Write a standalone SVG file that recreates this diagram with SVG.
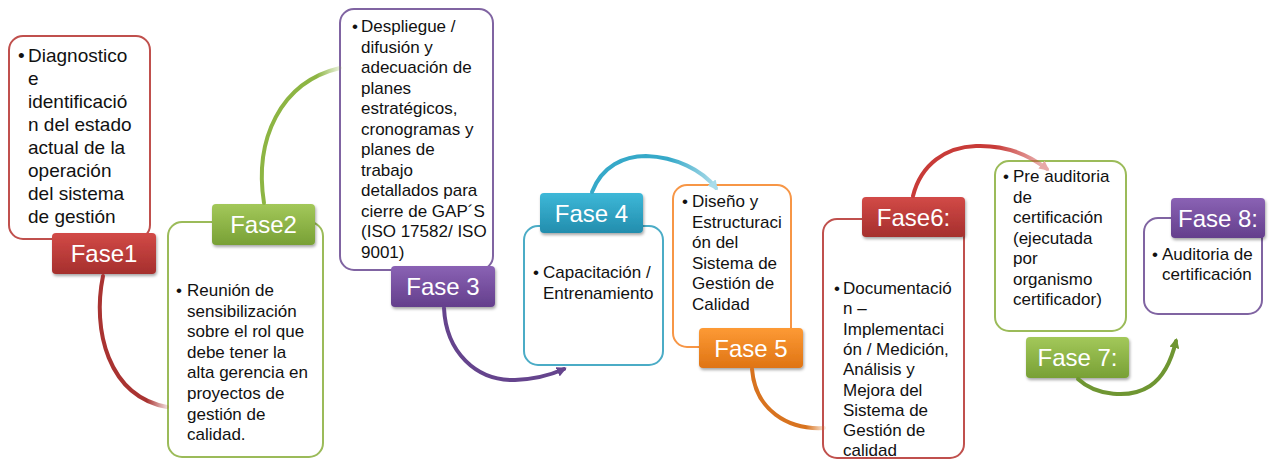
<svg xmlns="http://www.w3.org/2000/svg" width="1277" height="460" viewBox="0 0 1277 460">
<style>
.box{fill:#fff;stroke-width:2}
.red{stroke:#C0504D}.grn{stroke:#9BBB59}.pur{stroke:#8064A2}.blu{stroke:#4BACC6}.org{stroke:#F79646}
.lbl{filter:url(#sh)}
.lt{font-family:"Liberation Sans",Arial,sans-serif;font-size:24px;fill:#fff;text-anchor:middle}
.bt{font-family:"Liberation Sans",Arial,sans-serif;font-size:17px;fill:#111}
.arc{fill:none;stroke-width:4;stroke-linecap:round}
</style>
<defs>
<filter id="sh" x="-10%" y="-10%" width="130%" height="140%"><feDropShadow dx="1" dy="2" stdDeviation="1.5" flood-color="#000" flood-opacity="0.35"/></filter>
<linearGradient id="gRed" x1="0" y1="0" x2="0" y2="1"><stop offset="0" stop-color="#D24A47"/><stop offset="1" stop-color="#A52F2D"/></linearGradient>
<linearGradient id="gGrn" x1="0" y1="0" x2="0" y2="1"><stop offset="0" stop-color="#A3C85A"/><stop offset="1" stop-color="#78A035"/></linearGradient>
<linearGradient id="gPur" x1="0" y1="0" x2="0" y2="1"><stop offset="0" stop-color="#8A62B4"/><stop offset="1" stop-color="#643F8C"/></linearGradient>
<linearGradient id="gBlu" x1="0" y1="0" x2="0" y2="1"><stop offset="0" stop-color="#3DB8D8"/><stop offset="1" stop-color="#238DAD"/></linearGradient>
<linearGradient id="gOrg" x1="0" y1="0" x2="0" y2="1"><stop offset="0" stop-color="#FD9A35"/><stop offset="1" stop-color="#DF7414"/></linearGradient>
<linearGradient id="a1" gradientUnits="userSpaceOnUse" x1="97" y1="0" x2="168" y2="0"><stop offset="0" stop-color="#A93331"/><stop offset="0.7" stop-color="#A93331"/><stop offset="1" stop-color="#A93331" stop-opacity="0.15"/></linearGradient>
<linearGradient id="a2" gradientUnits="userSpaceOnUse" x1="260" y1="0" x2="341" y2="0"><stop offset="0" stop-color="#8DB543"/><stop offset="0.7" stop-color="#8DB543"/><stop offset="1" stop-color="#8DB543" stop-opacity="0.15"/></linearGradient>
<linearGradient id="a4" gradientUnits="userSpaceOnUse" x1="592" y1="0" x2="720" y2="0"><stop offset="0" stop-color="#36A9C9"/><stop offset="0.6" stop-color="#36A9C9"/><stop offset="1" stop-color="#36A9C9" stop-opacity="0.35"/></linearGradient>
<linearGradient id="a5" gradientUnits="userSpaceOnUse" x1="750" y1="0" x2="825" y2="0"><stop offset="0" stop-color="#D8731F"/><stop offset="0.75" stop-color="#D8731F"/><stop offset="1" stop-color="#D8731F" stop-opacity="0.15"/></linearGradient>
<linearGradient id="a6" gradientUnits="userSpaceOnUse" x1="913" y1="0" x2="1050" y2="0"><stop offset="0" stop-color="#C83B38"/><stop offset="0.6" stop-color="#C83B38"/><stop offset="1" stop-color="#C83B38" stop-opacity="0.3"/></linearGradient>
<marker id="mPur" viewBox="0 0 10 10" refX="7" refY="5" markerUnits="userSpaceOnUse" markerWidth="10" markerHeight="10" orient="auto"><path d="M0,0 L10,5 L0,10 z" fill="#65448D"/></marker>
<marker id="mBlu" viewBox="0 0 10 10" refX="7" refY="5" markerUnits="userSpaceOnUse" markerWidth="10" markerHeight="10" orient="auto"><path d="M0,0 L10,5 L0,10 z" fill="#A9DCEA"/></marker>
<marker id="mRed" viewBox="0 0 10 10" refX="7" refY="5" markerUnits="userSpaceOnUse" markerWidth="10" markerHeight="10" orient="auto"><path d="M0,0 L10,5 L0,10 z" fill="#E8A9A7"/></marker>
<marker id="mGrn" viewBox="0 0 10 10" refX="7" refY="5" markerUnits="userSpaceOnUse" markerWidth="10" markerHeight="10" orient="auto"><path d="M0,0 L10,5 L0,10 z" fill="#6F9632"/></marker>
</defs>
<rect width="1277" height="460" fill="#fff"/>

<g id="fase1">
<rect class="box red" x="9" y="36" width="141" height="203" rx="14"/>
<text class="bt" style="font-size:19px"><tspan x="18" y="62">•</tspan><tspan x="28" y="62">Diagnostico</tspan><tspan x="28" y="85">e</tspan><tspan x="28" y="108">identificació</tspan><tspan x="28" y="131">n del estado</tspan><tspan x="28" y="154">actual de la</tspan><tspan x="28" y="177">operación</tspan><tspan x="28" y="200">del sistema</tspan><tspan x="28" y="223">de gestión</tspan></text>
<rect class="lbl" x="52" y="233" width="104" height="41" rx="4" fill="url(#gRed)"/>
<text class="lt" x="104" y="262">Fase1</text>
</g>

<g id="fase2">
<rect class="box grn" x="168" y="222" width="155" height="235" rx="14"/>
<text class="bt"><tspan x="176" y="296">•</tspan><tspan x="187" y="296">Reunión de</tspan><tspan x="187" y="316.6">sensibilización</tspan><tspan x="187" y="337.2">sobre el rol que</tspan><tspan x="187" y="357.8">debe tener la</tspan><tspan x="187" y="378.4">alta gerencia en</tspan><tspan x="187" y="399">proyectos de</tspan><tspan x="187" y="419.6">gestión de</tspan><tspan x="187" y="440.2">calidad.</tspan></text>
<rect class="lbl" x="212" y="204" width="103" height="41" rx="4" fill="url(#gGrn)"/>
<text class="lt" x="263.5" y="233">Fase2</text>
</g>

<g id="fase3">
<rect class="box pur" x="340" y="9" width="153" height="261" rx="14"/>
<text class="bt"><tspan x="352" y="32">•</tspan><tspan x="361" y="32">Despliegue /</tspan><tspan x="361" y="52.5">difusión y</tspan><tspan x="361" y="73">adecuación de</tspan><tspan x="361" y="93.5">planes</tspan><tspan x="361" y="114">estratégicos,</tspan><tspan x="361" y="134.5">cronogramas y</tspan><tspan x="361" y="155">planes de</tspan><tspan x="361" y="175.5">trabajo</tspan><tspan x="361" y="196">detallados para</tspan><tspan x="361" y="216.5">cierre de GAP´S</tspan><tspan x="361" y="237">(ISO 17582/ ISO</tspan><tspan x="361" y="257.5">9001)</tspan></text>
<rect class="lbl" x="391" y="266" width="104" height="41" rx="4" fill="url(#gPur)"/>
<text class="lt" x="443" y="295">Fase 3</text>
</g>

<g id="fase4">
<rect class="box blu" x="524" y="226" width="139" height="139" rx="14"/>
<text class="bt"><tspan x="533" y="278">•</tspan><tspan x="543" y="278">Capacitación /</tspan><tspan x="543" y="298.5">Entrenamiento</tspan></text>
<rect class="lbl" x="540" y="193" width="103" height="40" rx="4" fill="url(#gBlu)"/>
<text class="lt" x="591.5" y="222">Fase 4</text>
</g>

<g id="fase5">
<rect class="box org" x="673" y="185" width="118" height="162" rx="14"/>
<text class="bt"><tspan x="682" y="207">•</tspan><tspan x="692" y="207">Diseño y</tspan><tspan x="692" y="227.5">Estructuraci</tspan><tspan x="692" y="248">ón del</tspan><tspan x="692" y="268.5">Sistema de</tspan><tspan x="692" y="289">Gestión de</tspan><tspan x="692" y="309.5">Calidad</tspan></text>
<rect class="lbl" x="699" y="328" width="104" height="40" rx="4" fill="url(#gOrg)"/>
<text class="lt" x="751" y="357">Fase 5</text>
</g>

<g id="fase6">
<rect class="box red" x="823" y="219" width="141" height="239" rx="14"/>
<text class="bt"><tspan x="834" y="294">•</tspan><tspan x="843" y="294">Documentació</tspan><tspan x="843" y="314.3">n –</tspan><tspan x="843" y="334.6">Implementaci</tspan><tspan x="843" y="354.9">ón / Medición,</tspan><tspan x="843" y="375.2">Análisis y</tspan><tspan x="843" y="395.5">Mejora del</tspan><tspan x="843" y="415.8">Sistema de</tspan><tspan x="843" y="436.1">Gestión de</tspan><tspan x="843" y="456.4">calidad</tspan></text>
<rect class="lbl" x="862" y="197" width="103" height="40" rx="4" fill="url(#gRed)"/>
<text class="lt" x="913.5" y="226">Fase6:</text>
</g>

<g id="fase7">
<rect class="box grn" x="995" y="161" width="131" height="170" rx="14"/>
<text class="bt"><tspan x="1003" y="182">•</tspan><tspan x="1013" y="182">Pre auditoria</tspan><tspan x="1013" y="202.5">de</tspan><tspan x="1013" y="223">certificación</tspan><tspan x="1013" y="243.5">(ejecutada</tspan><tspan x="1013" y="264">por</tspan><tspan x="1013" y="284.5">organismo</tspan><tspan x="1013" y="305">certificador)</tspan></text>
<rect class="lbl" x="1026" y="337" width="103" height="41" rx="4" fill="url(#gGrn)"/>
<text class="lt" x="1077.5" y="366">Fase 7:</text>
</g>

<g id="fase8">
<rect class="box pur" x="1144" y="218" width="118" height="96" rx="14"/>
<text class="bt"><tspan x="1152" y="260">•</tspan><tspan x="1162" y="260">Auditoria de</tspan><tspan x="1162" y="280">certificación</tspan></text>
<rect class="lbl" x="1171" y="198" width="94" height="40" rx="4" fill="url(#gPur)"/>
<text class="lt" x="1218" y="227">Fase 8:</text>
</g>

<g id="connectors">
<path class="arc" stroke="url(#a1)" d="M103,276 C92,330 108,396 167,407"/>
<path class="arc" stroke="url(#a2)" d="M264,203 C254,140 280,82 340,68"/>
<path class="arc" stroke="#65448D" marker-end="url(#mPur)" d="M444,308 C446,352 476,381 515,380 C538,379 553,374 564,369"/>
<path class="arc" stroke="url(#a4)" marker-end="url(#mBlu)" d="M592,192 C602,166 624,156 646,156 C676,157 702,170 716,188"/>
<path class="arc" stroke="url(#a5)" d="M752,369 C755,410 788,430 824,428"/>
<path class="arc" stroke="url(#a6)" marker-end="url(#mRed)" d="M913,196 C921,164 946,147 976,146 C1004,145 1028,154 1047,169"/>
<path class="arc" stroke="#6F9632" marker-end="url(#mGrn)" d="M1078,379 C1096,396 1130,399 1150,386 C1165,376 1172,358 1176,341"/>
</g>
</svg>
